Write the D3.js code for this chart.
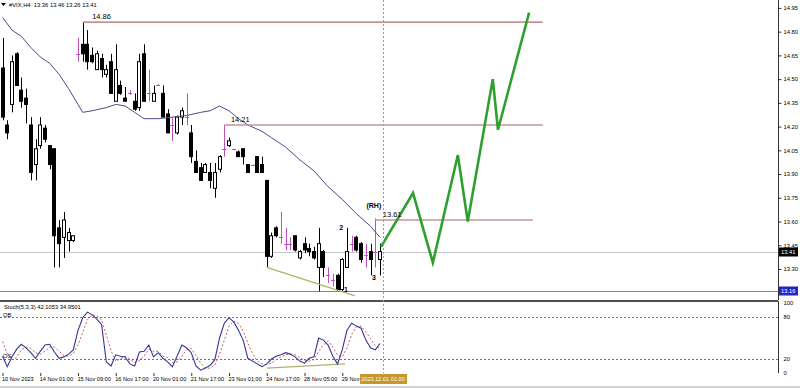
<!DOCTYPE html>
<html>
<head>
<meta charset="utf-8">
<script src="https://cdn.jsdelivr.net/npm/d3@7"></script>
<style>
  body { margin: 0; background: #fff; }
  svg { display: block; font-family: "Liberation Sans", Arial, sans-serif; }
</style>
</head>
<body>
<svg id="chart" width="800" height="388"></svg>
<script>
// candles, one per H4 bar: [open, high, low, close]
const candles = [
  [14.57,14.76,14.24,14.26],[14.21,14.24,14.12,14.16],[14.34,14.65,14.29,14.61],[14.66,14.67,14.46,14.46],
  [14.43,14.51,14.32,14.36],[14.38,14.44,14.22,14.34],[14.21,14.26,13.86,13.91],[13.96,14.12,13.86,14.06],
  [14.08,14.26,14.06,14.21],[14.19,14.21,14.10,14.12],[14.08,14.08,13.93,13.96],[14.06,14.06,13.31,13.51],
  [13.56,13.61,13.31,13.46],[13.50,13.66,13.37,13.61],[13.48,13.56,13.41,13.53],[13.48,13.51,13.47,13.51],
  [14.66,14.76,14.61,14.66],[14.72,14.86,14.61,14.66],[14.72,14.81,14.56,14.61],[14.65,14.70,14.60,14.61],
  [14.56,14.68,14.56,14.66],[14.63,14.66,14.51,14.56],[14.53,14.59,14.51,14.56],[14.61,14.66,14.41,14.41],
  [14.36,14.72,14.36,14.56],[14.46,14.49,14.40,14.41],[14.38,14.45,14.36,14.36],[14.41,14.43,14.40,14.41],
  [14.36,14.41,14.30,14.31],[14.32,14.66,14.30,14.61],[14.66,14.72,14.36,14.36],[14.41,14.56,14.36,14.41],
  [14.36,14.46,14.36,14.41],[14.46,14.47,14.46,14.46],[14.41,14.46,14.26,14.26],[14.28,14.31,14.16,14.16],
  [14.21,14.26,14.11,14.21],[14.16,14.27,14.15,14.26],[14.26,14.32,14.21,14.30],[14.26,14.41,14.21,14.26],
  [14.16,14.21,13.97,14.01],[13.98,14.05,13.91,13.91],[13.94,13.97,13.86,13.86],[13.91,13.97,13.91,13.96],
  [13.91,13.97,13.81,13.86],[13.81,13.97,13.75,13.91],[13.93,14.02,13.91,14.01],[14.06,14.21,14.01,14.06],
  [14.08,14.13,14.07,14.11],[14.06,14.06,14.05,14.06],[14.04,14.05,14.01,14.01],[14.06,14.06,13.96,14.01],
  [13.96,13.96,13.91,13.91],[13.96,13.96,13.95,13.96],[14.01,14.01,13.91,13.91],[13.96,14.01,13.91,13.91],
  [13.86,13.86,13.31,13.38],[13.38,13.53,13.37,13.51],[13.56,13.57,13.50,13.51],[13.50,13.66,13.46,13.50],
  [13.46,13.56,13.42,13.46],[13.46,13.50,13.42,13.46],[13.51,13.51,13.41,13.42],[13.37,13.42,13.36,13.41],
  [13.46,13.50,13.40,13.42],[13.43,13.46,13.38,13.41],[13.41,13.44,13.36,13.37],[13.31,13.56,13.16,13.46],
  [13.41,13.42,13.25,13.31],[13.26,13.31,13.21,13.26],[13.23,13.27,13.19,13.23],[13.26,13.27,13.16,13.17],
  [13.17,13.37,13.16,13.36],[13.31,13.56,13.31,13.41],[13.46,13.51,13.41,13.46],[13.50,13.51,13.41,13.42],
  [13.46,13.47,13.34,13.36],[13.39,13.46,13.31,13.39],[13.41,13.46,13.26,13.36],[13.41,13.62,13.31,13.41],
  [13.36,13.46,13.26,13.41]
];

// moving average: [bar, price]
const maLine = [
  [0,14.89],[2,14.81],[4,14.77],[6,14.70],[8,14.64],[10,14.60],[12,14.53],[14,14.44],[16,14.34],[17,14.29],
  [19,14.30],[22,14.32],[24,14.34],[26,14.33],[28,14.29],[30,14.25],[33,14.25],[36,14.26],[39,14.27],[42,14.29],
  [44,14.30],[46,14.33],[48,14.30],[50,14.25],[52,14.21],[55,14.17],[57,14.13],[60,14.07],[63,13.99],[66,13.92],
  [69,13.82],[72,13.74],[75,13.65],[78,13.57],[80,13.50]
];

// stochastic %K and %D per bar
const stochMain = [
  24,9,23,34,41,36,29,21,31,40,41,30,21,23,27,33,61,79,87,83,
  77,69,16,10,26,24,23,13,10,30,31,40,23,29,21,16,9,24,40,36,
  29,10,4,7,11,19,50,71,79,73,61,47,21,17,13,9,13,20,24,26,
  29,27,23,17,14,21,23,50,47,40,24,13,33,61,71,67,64,47,36,33,42.1
];
const stochSignal = [
  45,28,19,22,33,37,35,29,27,31,37,37,31,25,24,28,40,58,76,83,
  82,76,54,32,17,20,24,20,15,18,24,34,31,31,24,22,15,16,24,33,
  35,25,14,7,7,12,27,47,67,74,71,60,43,28,17,13,12,14,19,23,
  26,27,26,22,18,17,19,31,40,46,37,26,23,36,55,66,67,59,49,39,35.0
];

const priceTicks = [14.95,14.80,14.65,14.50,14.35,14.20,14.05,13.90,13.75,13.60,13.45,13.30];
const stochTicks = [100,80,20,0];
const timeIdx = [0,8,16,24,32,40,48,56,64,72];
const timeLabels = ['10 Nov 2023','14 Nov 01:00','15 Nov 09:00','16 Nov 17:00','20 Nov 01:00','21 Nov 17:00',
  '23 Nov 01:00','24 Nov 17:00','28 Nov 05:00','29 Nov'];

// drawn objects
const levels = [
  { price: 14.86, from: 17, to: 114.5 },
  { price: 14.21, from: 47, to: 114.5 },
  { price: 13.61, from: 79, to: 112.4 }
];
const projection = [[80.2,13.44],[87,13.78],[91.2,13.34],[96.5,14.02],[98.6,13.60],[103.9,14.50],[105,14.18],[111.6,14.92]];
const priceTrend = [[56,13.31],[74.7,13.13]];
const stochTrend = [[56,7],[72.6,13]];
const notes = [
  { t: '14.86', i: 19, p: 14.88, bold: false, anchor: 'start' },
  { t: '14.21', i: 48.4, p: 14.229, bold: false, anchor: 'start' },
  { t: '13.61', i: 80.6, p: 13.628, bold: false, anchor: 'start' },
  { t: '(RH)', i: 78.7, p: 13.685, bold: true, anchor: 'middle' },
  { t: '2', i: 71.8, p: 13.546, bold: true, anchor: 'middle' },
  { t: '3', i: 78.7, p: 13.23, bold: true, anchor: 'middle' },
  { t: '1', i: 72.8, p: 13.154, bold: true, anchor: 'middle' }
];
const lastPrice = 13.41;
const lowPrice = 13.16;
const cursorIdx = 80.6;
const cursorLabel = '2023.12.01 01:00';
const header = '#VIX,H4  13.36 13.46 13.26 13.41';
const stochTitle = 'Stoch(5,3,3) 42.1053 34.9501';

const axisX = 778;
const mainBottom = 297, stochTop = 303, stochBottom = 373;
const small = 5.8;

const svg = d3.select('#chart');
const x = d3.scaleLinear().domain([0, 80]).range([2.5, 380]);
const y = d3.scaleLinear().domain([13.123, 15.0]).range([mainBottom, 0]);
const ys = d3.scaleLinear().domain([0, 100]).range([stochBottom, stochTop]);
const px = (i) => Math.round(x(i));

const bars = candles.map((c, i) => ({ i, o: c[0], h: c[1], l: c[2], c: c[3] }));

svg.append('defs').append('clipPath').attr('id', 'clipMain')
  .append('rect').attr('x', 0).attr('y', 0).attr('width', axisX).attr('height', mainBottom);

const main = svg.append('g').attr('clip-path', 'url(#clipMain)');

// bid line and low line
main.append('line').attr('x1', 0).attr('x2', axisX)
  .attr('y1', Math.round(y(lastPrice)) + 0.5).attr('y2', Math.round(y(lastPrice)) + 0.5)
  .attr('stroke', '#c8c8c8');
main.append('line').attr('x1', 0).attr('x2', axisX)
  .attr('y1', Math.round(y(lowPrice)) + 0.5).attr('y2', Math.round(y(lowPrice)) + 0.5)
  .attr('stroke', '#7c7cc8');

// candles
const bar = main.append('g').selectAll('g').data(bars).join('g');
bar.append('line')
  .attr('x1', (d) => px(d.i) + 0.5).attr('x2', (d) => px(d.i) + 0.5)
  .attr('y1', (d) => y(d.h)).attr('y2', (d) => y(d.l))
  .attr('stroke', (d) => (d.o === d.c ? '#c050c0' : '#000'));
bar.filter((d) => d.o !== d.c).append('rect')
  .attr('x', (d) => px(d.i) - 1.5)
  .attr('width', 3)
  .attr('y', (d) => y(Math.max(d.o, d.c)))
  .attr('height', (d) => Math.max(1, y(Math.min(d.o, d.c)) - y(Math.max(d.o, d.c))))
  .attr('fill', (d) => (d.c > d.o ? '#fff' : '#000'))
  .attr('stroke', '#000');
bar.filter((d) => d.o === d.c).append('line')
  .attr('x1', (d) => px(d.i) - 2).attr('x2', (d) => px(d.i) + 2)
  .attr('y1', (d) => Math.round(y(d.o)) + 0.5).attr('y2', (d) => Math.round(y(d.o)) + 0.5)
  .attr('stroke', '#c050c0');

// moving average
main.append('path').datum(maLine)
  .attr('d', d3.line().x((d) => x(d[0])).y((d) => y(d[1])))
  .attr('fill', 'none').attr('stroke', '#4a4a8c').attr('stroke-width', 1);

// horizontal levels
main.selectAll('.lvl').data(levels).join('line').attr('class', 'lvl')
  .attr('x1', (d) => x(d.from)).attr('x2', (d) => x(d.to))
  .attr('y1', (d) => y(d.price)).attr('y2', (d) => y(d.price))
  .attr('stroke', '#c49494').attr('stroke-width', 1.6);

// trendline
main.append('path').datum(priceTrend)
  .attr('d', d3.line().x((d) => x(d[0])).y((d) => y(d[1])))
  .attr('stroke', '#b0b070').attr('stroke-width', 1.3).attr('fill', 'none');

// projected path
main.append('path').datum(projection)
  .attr('d', d3.line().x((d) => x(d[0])).y((d) => y(d[1])))
  .attr('fill', 'none').attr('stroke', '#2f9f2f').attr('stroke-width', 2.6)
  .attr('stroke-linejoin', 'miter');

// notes
main.selectAll('.note').data(notes).join('text').attr('class', 'note')
  .attr('x', (d) => x(d.i)).attr('y', (d) => y(d.p))
  .attr('text-anchor', (d) => d.anchor)
  .attr('font-size', (d) => (d.bold ? 7 : 7.5))
  .attr('font-weight', (d) => (d.bold ? 'bold' : 'normal'))
  .attr('fill', '#000').text((d) => d.t);

// header
svg.append('path').attr('d', 'M1,3 L6,3 L3.5,6 Z').attr('fill', '#000');
svg.append('text').attr('x', 9).attr('y', 7).attr('font-size', small).attr('fill', '#000')
  .attr('xml:space', 'preserve').text(header);

// separator between windows
svg.append('rect').attr('x', 0).attr('y', 300).attr('width', axisX).attr('height', 2).attr('fill', '#505050');

// stochastic window
const stoch = svg.append('g');
stoch.selectAll('.lv').data([80, 20]).join('line').attr('class', 'lv')
  .attr('x1', 0).attr('x2', axisX)
  .attr('y1', (d) => Math.round(ys(d)) + 0.5).attr('y2', (d) => Math.round(ys(d)) + 0.5)
  .attr('stroke', '#707070').attr('stroke-dasharray', '2,2');
stoch.append('path').datum(stochTrend)
  .attr('d', d3.line().x((d) => x(d[0])).y((d) => ys(d[1])))
  .attr('stroke', '#b0b070').attr('stroke-width', 1.3).attr('fill', 'none');
stoch.append('path').datum(stochSignal)
  .attr('d', d3.line().x((d, i) => x(i)).y((d) => ys(d)))
  .attr('fill', 'none').attr('stroke', '#c86060').attr('stroke-dasharray', '2,2');
stoch.append('path').datum(stochMain)
  .attr('d', d3.line().x((d, i) => x(i)).y((d) => ys(d)))
  .attr('fill', 'none').attr('stroke', '#34349a').attr('stroke-width', 1.1);
stoch.append('text').attr('x', 4).attr('y', 309).attr('font-size', small).text(stochTitle);
stoch.append('text').attr('x', 3).attr('y', 317).attr('font-size', small).text('OB');
stoch.append('text').attr('x', 3).attr('y', 358).attr('font-size', small).text('OS');

// cursor line
svg.append('line').attr('x1', Math.round(x(cursorIdx)) + 0.5).attr('x2', Math.round(x(cursorIdx)) + 0.5)
  .attr('y1', 0).attr('y2', stochBottom)
  .attr('stroke', '#a8a058').attr('stroke-dasharray', '2,2');

// price axis
const pAxis = svg.append('g').attr('transform', `translate(${axisX + 0.5},0)`)
  .call(d3.axisRight(y).tickValues(priceTicks).tickSize(3).tickSizeOuter(0).tickFormat(d3.format('.2f')));
const sAxis = svg.append('g').attr('transform', `translate(${axisX + 0.5},0)`)
  .call(d3.axisRight(ys).tickValues(stochTicks).tickSize(0).tickSizeOuter(0));
sAxis.select('.domain').attr('d', `M0,${stochTop - 2}V${stochBottom}`);
[pAxis, sAxis].forEach((a) => {
  a.select('.domain').attr('stroke', '#333');
  a.selectAll('.tick line').attr('stroke', '#333');
  a.selectAll('text').attr('font-size', small).attr('fill', '#000').attr('x', 5)
    .attr('font-family', '"Liberation Sans", Arial, sans-serif');
});
pAxis.select('.domain').attr('d', `M0,0V${stochTop - 3}`);

// price boxes
const boxes = [
  { p: lastPrice, fill: '#000', color: '#fff' },
  { p: lowPrice, fill: '#2424c8', color: '#fff' }
];
const bx = svg.selectAll('.pbox').data(boxes).join('g').attr('class', 'pbox')
  .attr('transform', (d) => `translate(${axisX + 1},${Math.round(y(d.p))})`);
bx.append('rect').attr('x', 0).attr('y', -4.5).attr('width', 19).attr('height', 9).attr('fill', (d) => d.fill);
bx.append('text').attr('x', 2).attr('y', 2.3).attr('font-size', small).attr('fill', (d) => d.color)
  .text((d) => d3.format('.2f')(d.p));

// time axis
const tAxis = svg.append('g').attr('transform', `translate(0,${stochBottom})`)
  .call(d3.axisBottom(x).tickValues(timeIdx).tickSize(3).tickSizeOuter(0).tickFormat((d, i) => timeLabels[i]));
tAxis.select('.domain').remove();
tAxis.selectAll('.tick line').attr('stroke', '#333');
tAxis.selectAll('text').attr('font-size', 5.6).attr('fill', '#000').attr('text-anchor', 'start')
  .attr('x', -1).attr('y', 4).attr('font-family', '"Liberation Sans", Arial, sans-serif');

// cursor time box
const cb = svg.append('g').attr('transform', `translate(${Math.round(x(cursorIdx))},${stochBottom + 1})`);
cb.append('rect').attr('x', -23).attr('y', 0).attr('width', 47).attr('height', 10).attr('fill', '#c4982c');
cb.append('text').attr('x', 0).attr('y', 7.3).attr('text-anchor', 'middle').attr('font-size', 5.6)
  .attr('fill', '#fff8e0').text(cursorLabel);

// bottom strip
svg.append('rect').attr('x', 0).attr('y', 386).attr('width', 800).attr('height', 2).attr('fill', '#d4d4d4');
</script>
</body>
</html>
